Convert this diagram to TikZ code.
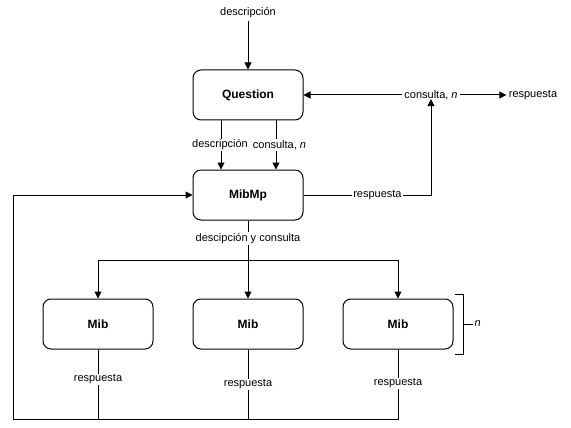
\documentclass[tikz,border=0pt]{standalone}
\usepackage{fontspec}
\setmainfont{Liberation Sans}
\usetikzlibrary{arrows.meta}
\begin{document}
\begin{tikzpicture}[x=1pt,y=-1pt,line width=1pt,
  >={Triangle[length=7pt,width=7pt]},
  box/.style={draw,rounded corners=8pt,minimum width=110pt,minimum height=50pt,inner sep=0pt,font=\fontsize{12}{14}\selectfont\bfseries},
  plain/.style={inner sep=2pt,font=\fontsize{11}{13}\selectfont},
  lbl/.style={fill=white,inner sep=1pt,font=\fontsize{11}{13}\selectfont}]
\useasboundingbox (0,0) rectangle (571,428);
\node[box] (q) at (248,95) {Question};
\node[box] (m) at (248,195) {MibMp};
\node[box] (b1) at (98,324) {Mib};
\node[box] (b2) at (248,324) {Mib};
\node[box] (b3) at (398,324) {Mib};
\node[plain] (d) at (248,13) {descripción};
\node[plain] (c) at (431,95) {consulta, \textit{n}};
\node[plain] (r) at (533,95) {respuesta};
\coordinate (split) at (248,260);
\coordinate (corner) at (13,419);
\coordinate (bt) at (455,294);
\coordinate (bb) at (455,354);
\coordinate (bm) at (463,324);
\node[plain,anchor=west,inner sep=1pt] (nn) at (473,324) {\textit{n}};

\draw[->] (d) -- (q.north);
\draw[->] (c) -- (q.east);
\draw[->] (c) -- (r);
\draw[->] (m.east) -| node[lbl,pos=0.29]{respuesta} ([yshift=3pt]c.south);
\draw[->] ([xshift=-27pt]q.south) -- node[lbl,xshift=-1pt]{descripción} ([xshift=-27pt]m.north);
\draw[->] ([xshift=28pt]q.south) -- node[lbl,xshift=3.5pt]{consulta, \textit{n}} ([xshift=28pt]m.north);
\draw[->] (m.south) -- node[lbl,pos=0.23]{descipción y consulta} (b2.north);
\draw[->] (split) -| (b1.north);
\draw[->] (split) -| (b3.north);
\draw[->] (b3.south) -- node[lbl,pos=0.49]{respuesta} (b3.south |- corner) -- (corner) |- (m.west);
\draw (b1.south) -- node[lbl,pos=0.43]{respuesta} (b1.south |- corner);
\draw (b2.south) -- node[lbl,pos=0.5]{respuesta} (b2.south |- corner);
\draw (bt) -- (bt -| bm) -- (bb -| bm) -- (bb);
\draw (bm) -- (nn.west);
\end{tikzpicture}
\end{document}
